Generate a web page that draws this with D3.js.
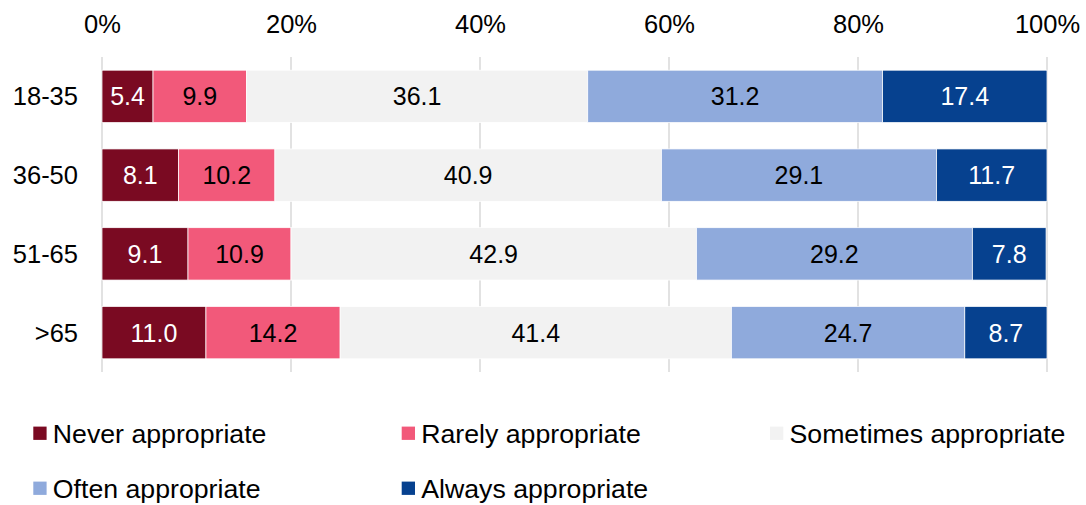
<!DOCTYPE html>
<html>
<head>
<meta charset="utf-8">
<script src="https://cdn.jsdelivr.net/npm/d3@7"></script>
<style>
  html, body { margin: 0; padding: 0; background: #fff; }
  svg { display: block; font-family: "Liberation Sans", Arial, sans-serif; }
</style>
</head>
<body>
<svg id="chart" width="1086" height="505"></svg>
<script>
const categories = ["18-35", "36-50", "51-65", ">65"];
const seriesNames = ["Never appropriate", "Rarely appropriate", "Sometimes appropriate", "Often appropriate", "Always appropriate"];
const never     = [5.4, 8.1, 9.1, 11.0];
const rarely    = [9.9, 10.2, 10.9, 14.2];
const sometimes = [36.1, 40.9, 42.9, 41.4];
const often     = [31.2, 29.1, 29.2, 24.7];
const always    = [17.4, 11.7, 7.8, 8.7];
const tickValues = [0, 20, 40, 60, 80, 100];
const tickLabels = ["0%", "20%", "40%", "60%", "80%", "100%"];

const colors = ["#7A0A22", "#F2597A", "#F2F2F2", "#8FAADC", "#06418F"];
const labelColors = ["#fff", "#000", "#000", "#000", "#fff"];

const seriesValues = [never, rarely, sometimes, often, always];
const rows = categories.map((c, i) => {
  const r = { cat: c };
  seriesNames.forEach((s, j) => r[s] = seriesValues[j][i]);
  return r;
});
const stacked = d3.stack().keys(seriesNames)(rows);

const svg = d3.select("#chart");
const x = d3.scaleLinear().domain([0, 100]).range([102, 1047]);
const y = d3.scaleBand().domain(categories).range([57, 372]).paddingInner(0.335).paddingOuter(0.1675);

// gridlines
svg.append("g").selectAll("line").data(tickValues).join("line")
  .attr("x1", d => x(d)).attr("x2", d => x(d))
  .attr("y1", 57).attr("y2", 372)
  .attr("stroke", "#d9d9d9").attr("stroke-width", 1.5);

// tick labels (top axis)
const axis = d3.axisTop(x).tickValues(tickValues).tickFormat((d, i) => tickLabels[i]).tickSize(0).tickPadding(0);
const ag = svg.append("g").attr("transform", "translate(0,33)").call(axis);
ag.select(".domain").remove();
ag.selectAll("text").attr("font-size", 25.5).attr("fill", "#000")
  .attr("font-family", "Liberation Sans, Arial, sans-serif").attr("dy", 0);

// category labels
const cg = svg.append("g").attr("transform", "translate(78,0)")
  .call(d3.axisLeft(y).tickSize(0).tickPadding(0));
cg.select(".domain").remove();
cg.selectAll("text").attr("font-size", 25.5).attr("fill", "#000")
  .attr("font-family", "Liberation Sans, Arial, sans-serif").attr("dy", "0.35em");

// bars
const layers = svg.append("g").selectAll("g").data(stacked).join("g")
  .attr("fill", (d, i) => colors[i]);
layers.selectAll("rect").data(d => d).join("rect")
  .attr("x", d => x(d[0]))
  .attr("y", d => y(d.data.cat))
  .attr("width", d => x(d[1]) - x(d[0]))
  .attr("height", y.bandwidth())
  .attr("stroke", "#fff").attr("stroke-width", 0.75);

// bar labels
const lg = svg.append("g").selectAll("g").data(stacked).join("g")
  .attr("fill", (d, i) => labelColors[i]);
lg.selectAll("text").data(d => d).join("text")
  .attr("x", d => (x(d[0]) + x(d[1])) / 2)
  .attr("y", d => y(d.data.cat) + y.bandwidth() / 2)
  .attr("dy", "0.36em")
  .attr("text-anchor", "middle")
  .attr("font-size", 25)
  .text(d => (d[1] - d[0]).toFixed(1));

// legend
const legX = [33.3, 401.7, 770];
const legY = [433.3, 488.3];
const leg = svg.append("g").selectAll("g").data(seriesNames).join("g")
  .attr("transform", (d, i) => `translate(${legX[i % 3]},${legY[Math.floor(i / 3)]})`);
leg.append("rect").attr("x", 0).attr("y", -6.7).attr("width", 13.3).attr("height", 13.3)
  .attr("fill", (d, i) => colors[i]);
leg.append("text").attr("x", 19.5).attr("y", 10).attr("font-size", 26.7).attr("fill", "#000")
  .text(d => d);
</script>
</body>
</html>
